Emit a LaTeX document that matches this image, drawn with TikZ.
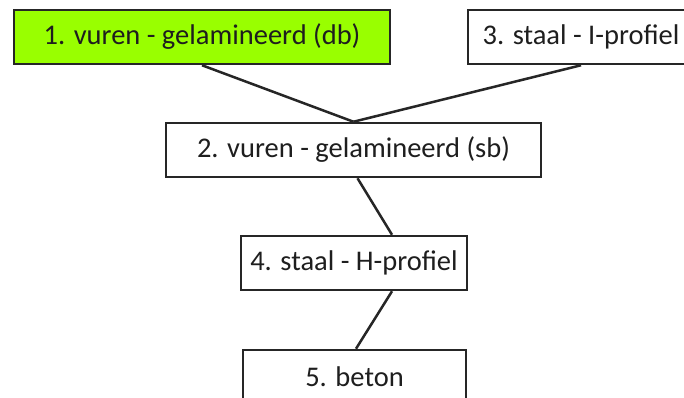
\documentclass[tikz,border=0pt]{standalone}
\usepackage{fontspec}
\setmainfont{Carlito}
\definecolor{limeg}{HTML}{99FF00}
\definecolor{edgec}{HTML}{262626}
\definecolor{txtc}{HTML}{1E1E1E}
\begin{document}
\begin{tikzpicture}[x=1pt,y=-1pt,
  box/.style={draw=edgec,line width=2.5pt,rectangle,inner sep=0pt,
    font=\fontsize{28.5}{32}\selectfont,text=txtc,minimum height=54pt},
  link/.style={draw=edgec,line width=2.5pt}]
\clip (0,0) rectangle (684,398);
\fill[white] (0,0) rectangle (684,398);
\node[box,fill=limeg,minimum width=376pt] (n1) at (202,37) {1. vuren - gelamineerd (db)};
\node[box,fill=white,minimum width=226pt] (n3) at (581,37) {3. staal - I-profiel};
\node[box,fill=white,minimum width=375pt] (n2) at (353.5,150) {2. vuren - gelamineerd (sb)};
\node[box,fill=white,minimum width=226pt] (n4) at (354,263) {4. staal - H-profiel};
\node[box,fill=white,minimum width=223pt] (n5) at (354.5,377) {5. beton};
\draw[link] (n1.south) -- (n2.north);
\draw[link] (n3.south) -- (n2.north);
\draw[link] ([xshift=4pt]n2.south) -- ([xshift=38pt]n4.north);
\draw[link] ([xshift=38pt]n4.south) -- ([xshift=1.5pt]n5.north);
\end{tikzpicture}
\end{document}
